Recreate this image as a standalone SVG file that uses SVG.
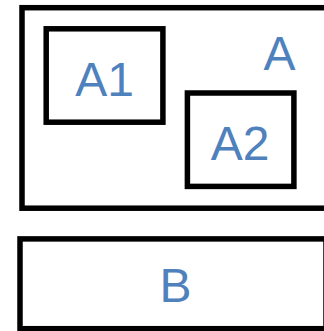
<svg xmlns="http://www.w3.org/2000/svg" width="324" height="331" viewBox="0 0 324 331">
<style>
.box{fill:#ffffff;stroke:#000000;stroke-width:5.5}
.lbl{font-family:"Liberation Sans",Arial,sans-serif;font-size:48px;fill:#4f81bd;text-anchor:middle}
</style>
<rect width="324" height="331" fill="#ffffff"/>
<g id="A">
<rect class="box" x="22" y="7.7" width="306" height="200.5"/>
<text class="lbl" x="279.5" y="70">A</text>
</g>
<g id="A1">
<rect class="box" x="46.2" y="28.8" width="116.7" height="93.4"/>
<text class="lbl" x="104.5" y="95.7">A1</text>
</g>
<g id="A2">
<rect class="box" x="187.4" y="93" width="106.5" height="93.4"/>
<text class="lbl" x="240" y="160">A2</text>
</g>
<g id="B">
<rect class="box" x="20" y="238.9" width="306" height="89.8"/>
<text class="lbl" x="175.5" y="301.7">B</text>
</g>
<g id="connectors"></g>
</svg>
